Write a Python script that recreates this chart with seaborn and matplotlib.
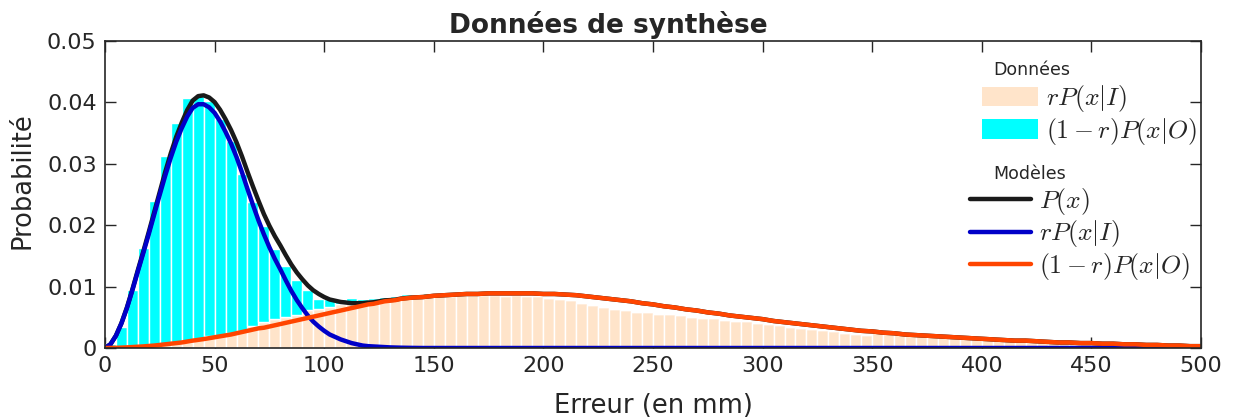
import numpy as np
import pandas as pd
import matplotlib
matplotlib.use("Agg")
import matplotlib.pyplot as plt
from matplotlib.patches import Patch
from matplotlib.lines import Line2D
import seaborn as sns

# --- Histogram: 5 mm bins from 0 to 500 mm -------------------------------
bin_edges = list(range(0, 505, 5))

# lower (stacked first) component, labelled rP(x|I)
hist_rPI = [
    0.0000, 0.0001, 0.0002, 0.0003, 0.0004, 0.0006, 0.0008, 0.0010, 0.0014, 0.0019,
    0.0020, 0.0025, 0.0028, 0.0036, 0.0043, 0.0048, 0.0051, 0.0054, 0.0062, 0.0064,
    0.0067, 0.0071, 0.0073, 0.0075, 0.0078, 0.0079, 0.0081, 0.0084, 0.0084, 0.0086,
    0.0086, 0.0085, 0.0086, 0.0087, 0.0086, 0.0087, 0.0085, 0.0086, 0.0084, 0.0085,
    0.0081, 0.0079, 0.0078, 0.0074, 0.0070, 0.0067, 0.0063, 0.0062, 0.0058, 0.0059,
    0.0056, 0.0056, 0.0053, 0.0051, 0.0049, 0.0049, 0.0046, 0.0044, 0.0044, 0.0041,
    0.0039, 0.0037, 0.0035, 0.0033, 0.0031, 0.0029, 0.0027, 0.0025, 0.0023, 0.0021,
    0.0027, 0.0025, 0.0024, 0.0024, 0.0024, 0.0024, 0.0020, 0.0021, 0.0018, 0.0018,
    0.0017, 0.0016, 0.0016, 0.0013, 0.0014, 0.0011, 0.0010, 0.0009, 0.0009, 0.0008,
    0.0007, 0.0007, 0.0006, 0.0006, 0.0005, 0.0005, 0.0004, 0.0004, 0.0003, 0.0003,
]

# upper (stacked on top) component, labelled (1-r)P(x|O)
hist_1mrPO = [
    0.0006, 0.0034, 0.0092, 0.0160, 0.0235, 0.0306, 0.0358, 0.0397, 0.0396, 0.0384,
    0.0353, 0.0312, 0.0256, 0.0202, 0.0155, 0.0113, 0.0082, 0.0057, 0.0032, 0.0016,
    0.0012, 0.0009, 0.0009, 0.0005, 0.0004, 0.0004, 0.0004, 0.0004, 0.0003, 0.0003,
    0.0003,
] + [0.0] * 69

# --- Model curves ----------------------------------------------------------
curve_x = [i * 2.5 for i in range(57)] + list(range(145, 505, 5))

model_rPI = [
    0.0000, 0.0006, 0.0020, 0.0040, 0.0065, 0.0094, 0.0125, 0.0155, 0.0186, 0.0218,
    0.0250, 0.0281, 0.0310, 0.0336, 0.0358, 0.0377, 0.0391, 0.0397, 0.0397, 0.0392,
    0.0383, 0.0369, 0.0352, 0.0333, 0.0311, 0.0286, 0.0259, 0.0233, 0.0208, 0.0185,
    0.0164, 0.0145, 0.0128, 0.0110, 0.0093, 0.0078, 0.0065, 0.0053, 0.0043, 0.0035,
    0.0028, 0.0022, 0.0018, 0.0014, 0.0011, 0.0008, 0.0006, 0.0004, 0.0003, 0.00025,
    0.0002, 0.00015, 0.0001, 0.00007, 0.00005, 0.00003, 0.00002,
] + [0.0] * 72

model_1mrPO = [
    0.0000, 0.00001, 0.00003, 0.00006, 0.0001, 0.00015, 0.0002, 0.00026, 0.00033, 0.0004,
    0.0005, 0.0006, 0.0007, 0.0008, 0.0009, 0.00105, 0.0012, 0.00132, 0.00145, 0.0016,
    0.00175, 0.0019, 0.00205, 0.0022, 0.0024, 0.0026, 0.0028, 0.0030, 0.0032, 0.0033,
    0.0035, 0.0037, 0.0039, 0.0041, 0.0043, 0.0045, 0.0047, 0.0049, 0.0051, 0.0053,
    0.0055, 0.0057, 0.0059, 0.0061, 0.0063, 0.0065, 0.0067, 0.0069, 0.0071, 0.0072,
    0.0074, 0.0076, 0.0077, 0.0078, 0.0080, 0.0081, 0.0082,
    0.0083, 0.0085, 0.0086, 0.0087, 0.0088, 0.0088, 0.0089, 0.0089, 0.0089, 0.0089,
    0.0089, 0.0088, 0.0088, 0.0087, 0.0086, 0.0084, 0.0082, 0.0080, 0.0078, 0.0076,
    0.0073, 0.0071, 0.0068, 0.0066, 0.0063, 0.0061, 0.0058, 0.0056, 0.0053, 0.0051,
    0.0049, 0.0047, 0.0044, 0.0042, 0.0040, 0.0038, 0.0036, 0.0034, 0.0032, 0.0030,
    0.0028, 0.0027, 0.0025, 0.0024, 0.0022, 0.0021, 0.0020, 0.0019, 0.0018, 0.0017,
    0.0016, 0.0015, 0.0014, 0.0013, 0.0012, 0.0012, 0.0011, 0.0010, 0.0009, 0.0009,
    0.0008, 0.0008, 0.0007, 0.0007, 0.0006, 0.0006, 0.0005, 0.0005, 0.0004, 0.0004,
    0.0003, 0.0003,
]

# full mixture P(x) = rP(x|I) + (1-r)P(x|O)
model_P = [a + b for a, b in zip(model_rPI, model_1mrPO)]

x_ticks = [0, 50, 100, 150, 200, 250, 300, 350, 400, 450, 500]
y_ticks = [0, 0.01, 0.02, 0.03, 0.04, 0.05]
y_ticklabels = ["0", "0.01", "0.02", "0.03", "0.04", "0.05"]

lab_rPI = r"$rP(x|I)$"
lab_1mrPO = r"$(1-r)P(x|O)$"

col_peach = "#FFE4CA"
col_cyan = "#00FFFF"
col_black = "#1A1A1A"
col_blue = "#0000C8"
col_orange = "#FF4500"
ink = "#262626"

# --- Styling ---------------------------------------------------------------
sns.set_theme(style="ticks")
plt.rcParams["font.family"] = ["DejaVu Sans"]
plt.rcParams["mathtext.fontset"] = "cm"
plt.rcParams["text.color"] = ink
plt.rcParams["axes.labelcolor"] = ink
plt.rcParams["xtick.color"] = ink
plt.rcParams["ytick.color"] = ink
plt.rcParams["axes.edgecolor"] = ink

fig = plt.figure(figsize=(12.33, 4.17), dpi=100)
ax = fig.add_axes([105 / 1233, 1 - 348 / 417, 1096 / 1233, 307 / 417])

# long-format table of binned values for the stacked histogram
centres = [(bin_edges[i] + bin_edges[i + 1]) / 2 for i in range(len(bin_edges) - 1)]
df = pd.DataFrame({
    "centre": centres * 2,
    "valeur": hist_1mrPO + hist_rPI,
    "composante": [lab_1mrPO] * len(centres) + [lab_rPI] * len(centres),
})

sns.histplot(
    data=df, x="centre", weights="valeur", hue="composante",
    hue_order=[lab_1mrPO, lab_rPI], bins=bin_edges, multiple="stack",
    palette={lab_1mrPO: col_cyan, lab_rPI: col_peach},
    edgecolor="white", linewidth=1.0, alpha=1.0, legend=False, ax=ax,
)

sns.lineplot(x=curve_x, y=model_P, color=col_black, linewidth=3.2, ax=ax, sort=False)
sns.lineplot(x=curve_x, y=model_rPI, color=col_blue, linewidth=3.2, ax=ax, sort=False)
sns.lineplot(x=curve_x, y=model_1mrPO, color=col_orange, linewidth=3.2, ax=ax, sort=False)

ax.set_xlim(0, 500)
ax.set_ylim(0, 0.05)
ax.set_xticks(x_ticks)
ax.set_xticklabels([str(t) for t in x_ticks])
ax.set_yticks(y_ticks)
ax.set_yticklabels(y_ticklabels)
ax.tick_params(direction="in", length=8, width=1.0, labelsize=16,
               top=True, right=True, pad=6)
for sp in ax.spines.values():
    sp.set_visible(True)
    sp.set_linewidth(1.2)
    sp.set_color(ink)

ax.set_xlabel("Erreur (en mm)", fontsize=18.5, labelpad=12)
ax.set_ylabel("Probabilité", fontsize=18.5)
ax.yaxis.set_label_coords(-0.063, 0.544)
ax.set_title("Données de synthèse", fontsize=19, fontweight="bold",
             x=0.459, pad=6)

# --- Legends ---------------------------------------------------------------
data_handles = [
    Patch(facecolor=col_peach, edgecolor="none"),
    Patch(facecolor=col_cyan, edgecolor="none"),
]
leg1 = ax.legend(
    data_handles, [lab_rPI, lab_1mrPO], loc="upper left",
    bbox_to_anchor=(0.800, 0.862), frameon=False, fontsize=18.5,
    handlelength=2.2, handleheight=0.8, handletextpad=0.3,
    labelspacing=0.05, borderpad=0, borderaxespad=0,
)
ax.add_artist(leg1)

model_handles = [
    Line2D([], [], color=col_black, linewidth=3.2),
    Line2D([], [], color=col_blue, linewidth=3.2),
    Line2D([], [], color=col_orange, linewidth=3.2),
]
ax.legend(
    model_handles, [r"$P(x)$", lab_rPI, lab_1mrPO], loc="upper left",
    bbox_to_anchor=(0.789, 0.527), frameon=False, fontsize=18.5,
    handlelength=2.4, handletextpad=0.3, labelspacing=0.05,
    borderpad=0, borderaxespad=0,
)

ax.text(0.810, 0.906, "Données", transform=ax.transAxes, fontsize=12.5,
        ha="left", va="center")
ax.text(0.810, 0.567, "Modèles", transform=ax.transAxes, fontsize=12.5,
        ha="left", va="center")

fig.savefig("out.png", dpi=100)
